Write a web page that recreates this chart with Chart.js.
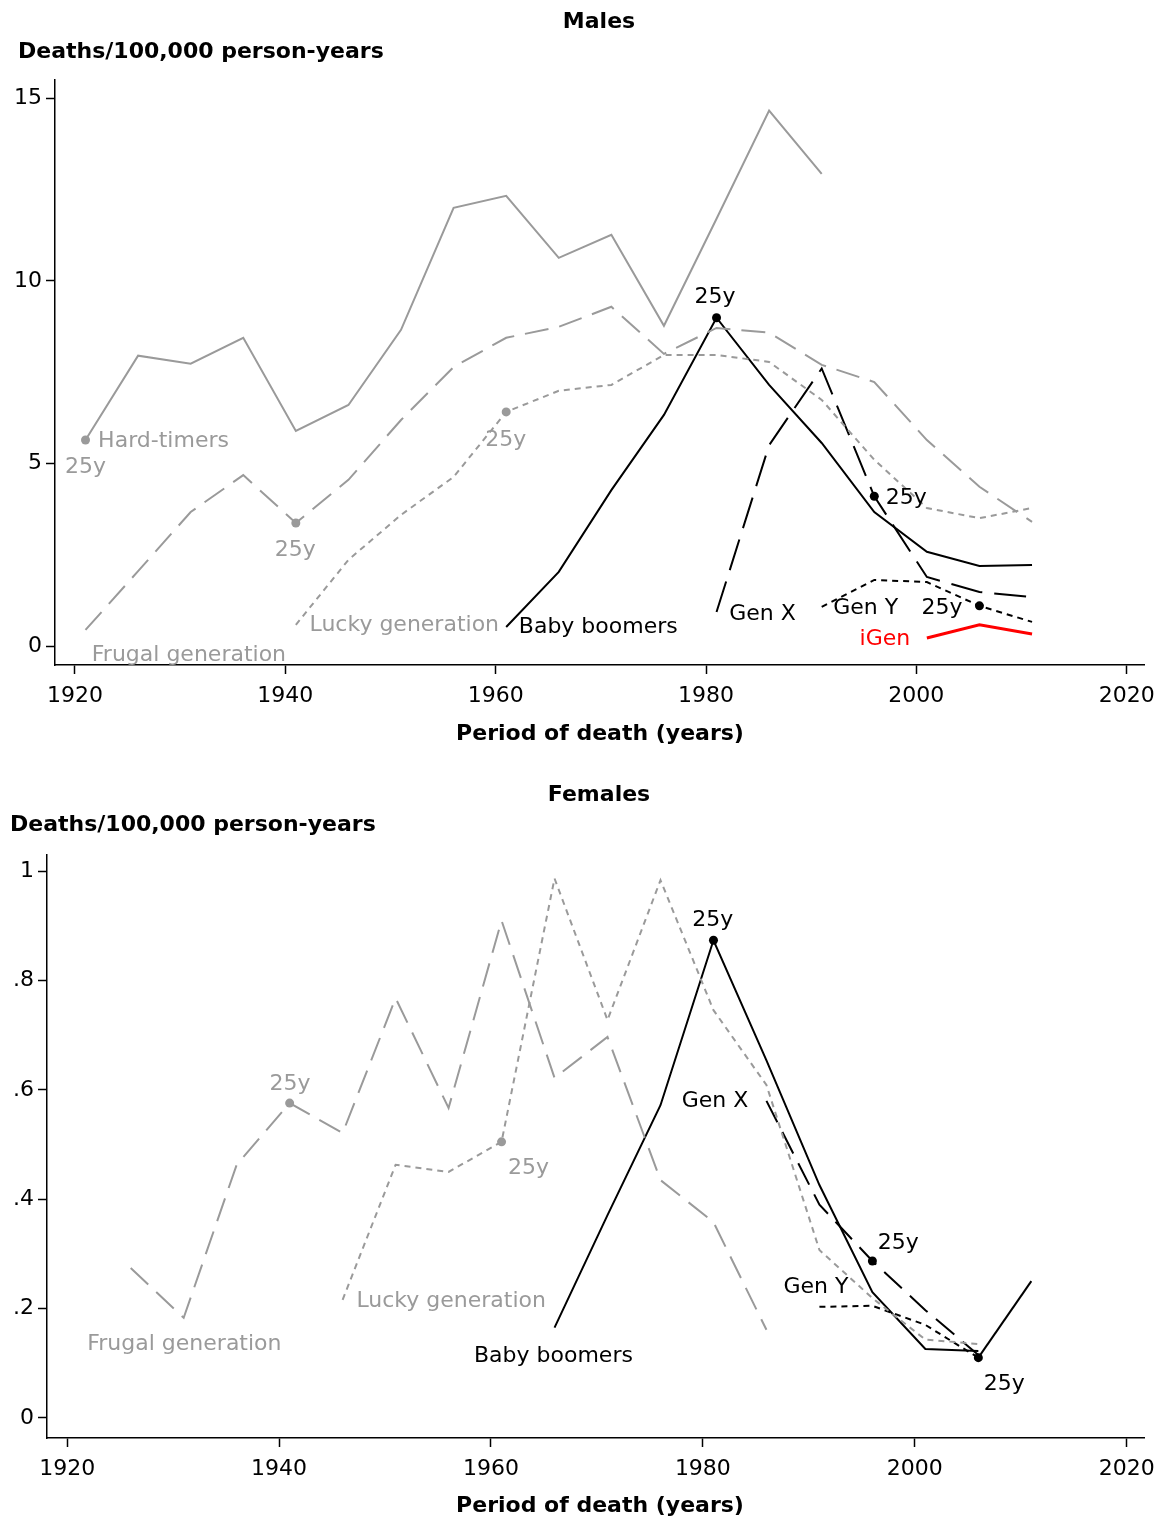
<!DOCTYPE html>
<html><head><meta charset="utf-8">
<script src="https://cdn.jsdelivr.net/npm/chart.js@4"></script>
<style>body{margin:0;background:#fff}canvas{display:block}</style>
</head><body>
<div style="width:1164px;height:760px;position:relative"><canvas id="m"></canvas></div>
<div style="width:1164px;height:762px;position:relative"><canvas id="f"></canvas></div>
<script>
const years = [1921,1926,1931,1936,1941,1946,1951,1956,1961,1966,1971,1976,1981,1986,1991,1996,2001,2006,2011];
// Males
const mHard   = [5.64,7.95,7.73,8.44,5.89,6.6,8.66,12.0,12.33,10.63,11.26,8.77,11.7,14.66,12.93];
const mFrugal = [0.44,2.05,3.67,4.68,3.37,4.55,6.19,7.64,8.44,8.74,9.29,8.0,8.71,8.58,7.7,7.23,5.64,4.36,3.4];
const mLucky  = [0.58,2.36,3.59,4.63,6.41,6.99,7.15,7.97,7.97,7.78,6.74,5.1,3.78,3.5,3.78];
const mBoom   = [0.52,2.03,4.27,6.33,8.99,7.15,5.56,3.67,2.58,2.19,2.22];
const mGenX   = [0.93,5.5,7.6,4.1,1.89,1.48,1.34];
const mGenY   = [1.07,1.81,1.75,1.1,0.66];
const mIGen   = [0.22,0.58,0.33];
// Females
const fFrugal = [0.274,0.183,0.463,0.576,0.521,0.768,0.567,0.91,0.622,0.697,0.435,0.358,0.161];
const fLucky  = [0.216,0.463,0.45,0.505,0.987,0.728,0.984,0.746,0.609,0.307,0.219,0.143,0.135];
const fBoom   = [0.165,0.371,0.572,0.874,0.654,0.426,0.23,0.126,0.122];
const fGenX   = [0.58,0.39,0.287,0.197,0.115];
const fGenY   = [0.203,0.205,0.17,0.11,0.25];
const mYTicks = [0,5,10,15];
const fYTicks = [0,0.2,0.4,0.6,0.8,1];
const xTicks = [1920,1940,1960,1980,2000,2020];

const GRAY='#9a9a9a', BLK='#000', RED='#ff0000';
const LONG=[24,11], SHORT=[6,5], XLONG=[32,12];
function ser(vals,startYear,color,dash,markIdx,width){
  const i0=years.indexOf(startYear);
  return {data:vals.map((v,i)=>({x:years[i0+i],y:v})),borderColor:color,borderDash:dash,borderWidth:width||2,
    pointRadius:vals.map((v,i)=>i===markIdx?4.5:0),pointBackgroundColor:color,pointBorderWidth:0,tension:0};
}
const mLabels=[
 ['Hard-timers',1922.2,5.62,GRAY],['25y',1919.05,4.9,GRAY],['25y',1939.0,2.63,GRAY],['25y',1959.0,5.64,GRAY],
 ['Frugal generation',1921.6,-0.25,GRAY],['Lucky generation',1942.3,0.58,GRAY],['Baby boomers',1962.2,0.52,BLK],
 ['25y',1978.9,9.56,BLK],['Gen X',1982.2,0.88,BLK],['Gen Y',1992.1,1.04,BLK],['25y',1997.1,4.05,BLK],
 ['25y',2000.5,1.04,BLK],['iGen',1994.6,0.19,RED]];
const fLabels=[
 ['25y',1939.1,0.611,GRAY],['25y',1961.6,0.457,GRAY],['Frugal generation',1921.9,0.135,GRAY],
 ['Lucky generation',1947.3,0.214,GRAY],['Baby boomers',1958.4,0.113,BLK],['25y',1979.0,0.91,BLK],
 ['Gen X',1978.0,0.58,BLK],['Gen Y',1987.6,0.239,BLK],['25y',1996.5,0.32,BLK],['25y',2006.5,0.062,BLK]];

const FONT='"DejaVu Sans", sans-serif';
function textPlugin(labels,title,ytitle,titleY,ytY,xtY){
 return {id:'txt',afterDatasetsDraw(c){
  const ctx=c.ctx,xs=c.scales.x,ys=c.scales.y;
  ctx.save();ctx.font='22px '+FONT;ctx.textBaseline='middle';ctx.textAlign='left';
  labels.forEach(l=>{ctx.fillStyle=l[3];ctx.fillText(l[0],xs.getPixelForValue(l[1]),ys.getPixelForValue(l[2]));});
  ctx.fillStyle='#000';ctx.font='bold 22px '+FONT;
  ctx.textAlign='center';ctx.fillText(title,599,titleY);
  ctx.fillText('Period of death (years)',600,xtY);
  ctx.textAlign='left';ctx.fillText(ytitle,ytY[0],ytY[1]);
  ctx.restore();}};
}
function mk(id,datasets,opts){
 return new Chart(document.getElementById(id),{type:'line',data:{datasets},
  options:{responsive:true,maintainAspectRatio:false,animation:false,
   layout:{padding:{top:opts.top,right:19,left:0,bottom:0}},
   plugins:{legend:{display:false},tooltip:{enabled:false}},
   scales:{
    x:{type:'linear',min:1918.1,max:2021.7,afterBuildTicks:s=>{s.ticks=xTicks.map(v=>({value:v}));},
      afterFit:s=>{s.height=opts.xh;},
      border:{color:'#000',width:1.5},grid:{drawOnChartArea:false,color:'#000',tickLength:9,tickWidth:1.5},
      ticks:{color:'#000',font:{size:22,family:FONT},padding:9,maxRotation:0,callback:v=>String(v)}},
    y:{type:'linear',min:opts.ymin,max:opts.ymax,afterBuildTicks:s=>{s.ticks=opts.yt.map(v=>({value:v}));},
      afterFit:s=>{s.width=opts.yw;},
      border:{color:'#000',width:1.5},grid:{drawOnChartArea:false,color:'#000',tickLength:9,tickWidth:1.5},
      ticks:{color:'#000',font:{size:22,family:FONT},padding:4,callback:opts.fmt}}}},
  plugins:[opts.plug]});
}
mk('m',[
 ser(mHard,1921,GRAY,[],0),ser(mFrugal,1921,GRAY,LONG,4),ser(mLucky,1941,GRAY,SHORT,4),
 ser(mBoom,1961,BLK,[],4),ser(mGenX,1981,BLK,XLONG,3),ser(mGenY,1991,BLK,SHORT,3),ser(mIGen,2001,RED,[],-1,3)
],{top:80,xh:95,yw:55,ymin:-0.52,ymax:15.5,yt:mYTicks,fmt:v=>String(v),
  plug:textPlugin(mLabels,'Males','Deaths/100,000 person-years',22,[18,52],734)});
const gy=ser(fGenY,1991,BLK,SHORT,3);
gy.segment={borderDash:ctx=>ctx.p0DataIndex===3?[]:SHORT};
mk('f',[
 ser(fFrugal,1926,GRAY,LONG,3),ser(fLucky,1946,GRAY,SHORT,3),ser(fBoom,1966,BLK,[],3),
 ser(fGenX,1986,BLK,LONG,2),gy
],{top:95,xh:84,yw:47,ymin:-0.037,ymax:1.03,yt:fYTicks,fmt:v=>v===0?'0':v===1?'1':String(v.toFixed(1)).replace(/^0/,''),
  plug:textPlugin(fLabels,'Females','Deaths/100,000 person-years',35,[10,65],746)});
</script>
</body></html>
